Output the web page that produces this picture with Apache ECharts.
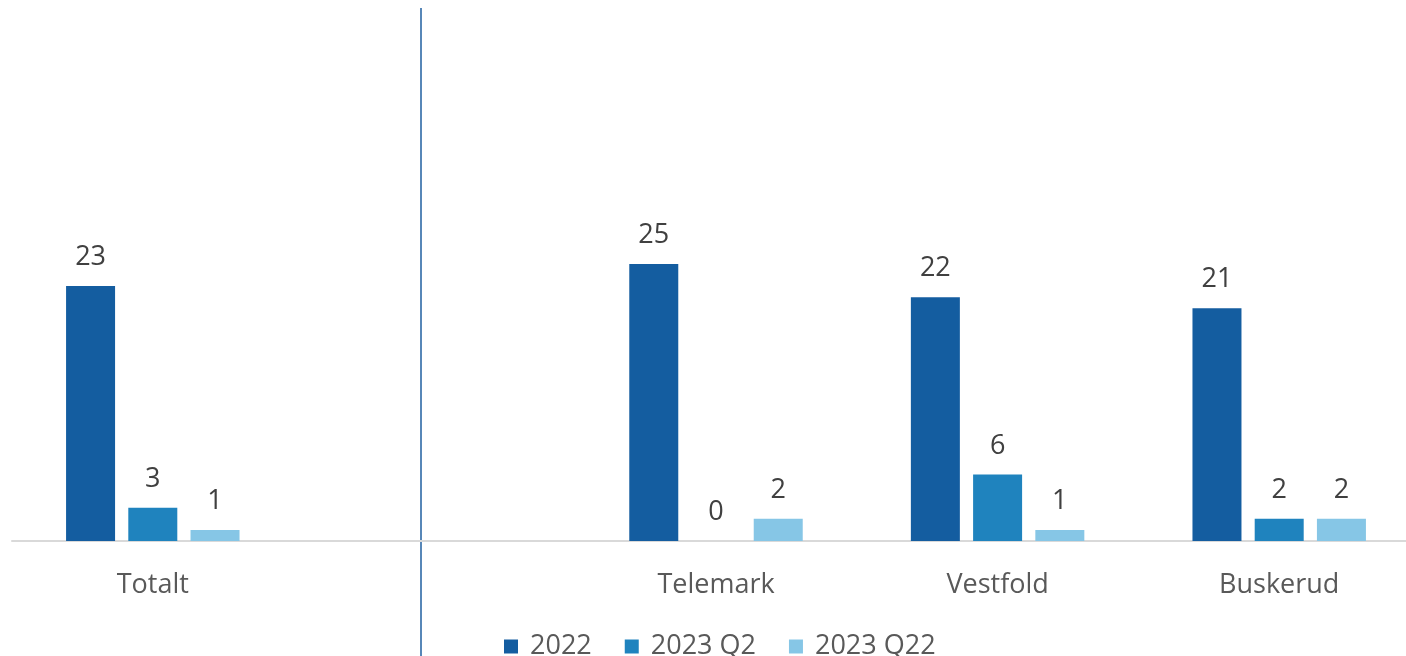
<!DOCTYPE html>
<html><head><meta charset="utf-8">
<script src="https://cdn.jsdelivr.net/npm/echarts@6/dist/echarts.min.js"></script>
<style>html,body{margin:0;padding:0;background:#fff;overflow:hidden;width:1406px;height:656px;}#c{width:1420px;height:656px;}</style>
</head><body><div id="c"></div>
<script>
var categories = ['Totalt', '', 'Telemark', 'Vestfold', 'Buskerud'];
var seriesNames = ['2022', '2023 Q2', '2023 Q22'];
var values2022 = [23, null, 25, 22, 21];
var values2023Q2 = [3, null, 0, 6, 2];
var values2023Q22 = [1, null, 2, 1, 2];
var colors = ['#145DA0', '#1F83BE', '#86C6E6'];

var FONT = '"Open Sans", sans-serif';
function mk(name, data, color) {
  return {
    name: name, type: 'bar', data: data, barWidth: 49, barGap: '27%',
    itemStyle: { color: color },
    label: { show: true, position: 'top', distance: 15, fontSize: 27, color: '#404040', fontFamily: FONT },
    animation: false
  };
}
var chart = echarts.init(document.getElementById('c'));
chart.setOption({
  animation: false,
  textStyle: { fontFamily: FONT },
  grid: { left: 12, right: 0, top: 9, bottom: 115, containLabel: false },
  legend: {
    top: 633, left: 504, padding: 0, itemWidth: 14, itemHeight: 14, itemGap: 33,
    icon: 'rect', textStyle: { fontSize: 27, color: '#595959', fontFamily: FONT, padding: [0, 0, 0, 7] },
    data: seriesNames
  },
  xAxis: {
    type: 'category', data: categories,
    axisLine: { lineStyle: { color: '#D9D9D9', width: 2 } },
    axisTick: { show: false },
    axisLabel: { fontSize: 27, color: '#595959', margin: 31, fontFamily: FONT }
  },
  yAxis: { type: 'value', min: 0, max: 48, show: false, splitLine: { show: false } },
  graphic: [{
    type: 'line', shape: { x1: 421, y1: 8, x2: 421, y2: 656 },
    style: { stroke: '#1F5FA0', lineWidth: 1.5 }
  }],
  series: [
    mk(seriesNames[0], values2022, colors[0]),
    mk(seriesNames[1], values2023Q2, colors[1]),
    mk(seriesNames[2], values2023Q22, colors[2])
  ]
});
</script></body></html>
